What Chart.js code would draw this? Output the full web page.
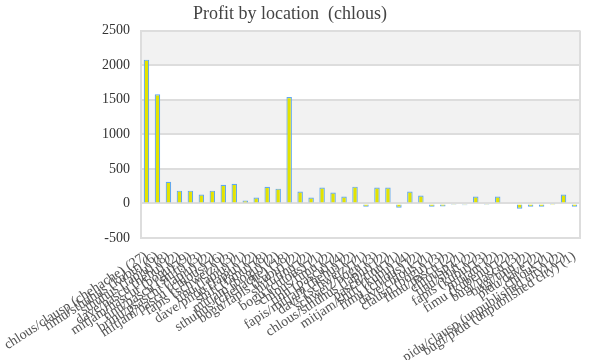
<!DOCTYPE html>
<html>
<head>
<meta charset="utf-8">
<script src="https://cdn.jsdelivr.net/npm/chart.js@4/dist/chart.umd.min.js"></script>
<style>
  html, body { margin: 0; padding: 0; background: #fff; }
  #wrap { width: 600px; height: 360px; }
</style>
</head>
<body>
<div id="wrap"><canvas id="chart-profit" width="600" height="360"></canvas></div>
<script>
// locations (labels are overlapping in the original, best guess)
var locations = [
  "chlous/clausp (chehache) (27)", "fimu/sthuhus (kubu) (6)", "sthuhus (lapiu) (8)",
  "dave/pascu (hehu) (2)", "mitjam/hascur (bogu) (9)", "tinu/pascu (shift) (3)",
  "brinu/psaschi (lapiu) (2)", "mitjam/pascu (chlous) (6)", "fapis (schweiz) (3)",
  "tinu (lapiu) (1)", "dave/piidu (lapiu) (2)", "shift (fimu) (8)",
  "mitjam (bogu) (2)", "sthuhus (chehache) (18)", "bogu/fapis (kubu) (2)",
  "shift/tinu (2)", "bogu (chlous) (1)", "chlous/fimu (2)",
  "tinu (pascu) (4)", "fapis/mitjam (hehu) (2)", "dave (schweiz) (1)",
  "schweiz/bogu (3)", "chlous/sthuhus (lapiu) (2)", "pascu/tinu (1)",
  "mitjam/shift (kubu) (4)", "fimu (chlous) (2)", "dave/chlous (1)",
  "clausp (bogu) (3)", "fimu/pascu (2)", "chlousp (1)",
  "tinu/shift (2)", "fapis (kubu) (3)", "mitjam (2)",
  "fimu (kubenu) (2)", "bugi/pascu (3)", "bugi/tinu (2)",
  "pidu/dave (2)", "chlous (1)", "pidu/clausp (unpublished city) (2)",
  "bugi/pidu (unpublished city) (1)"
];
var profit = [
  2080, 1580, 313, 185, 185, 128, 185, 270, 285, 43,
  85, 242, 214, 1538, 171, 86, 229, 157, 100, 243,
  -49, 229, 229, -63, 171, 114, -49, -43, -22, -25,
  100, -10, 100, 15, -77, -49, -49, -5, 129, -49
];
var tickValues = [-500, 0, 500, 1000, 1500, 2000, 2500];

var serif = "'Liberation Serif', 'DejaVu Serif', serif";

// grey bands between grid lines + right border
var bandPlugin = {
  id: 'bands',
  beforeDraw: function (chart) {
    var c = chart.ctx, a = chart.chartArea, y = chart.scales.y;
    c.save();
    for (var i = 0; i < tickValues.length - 1; i++) {
      if ((tickValues.length - 2 - i) % 2 == 0) {
        var y1 = y.getPixelForValue(tickValues[i + 1]);
        var y2 = y.getPixelForValue(tickValues[i]);
        c.fillStyle = '#f2f2f2';
        c.fillRect(a.left, y1, a.right - a.left, y2 - y1);
      }
    }
    c.restore();
  },
  afterDraw: function (chart) {
    var c = chart.ctx, a = chart.chartArea;
    c.save();
    c.strokeStyle = '#dddddd';
    c.lineWidth = 2;
    c.beginPath();
    c.moveTo(a.right, a.top);
    c.lineTo(a.right, a.bottom + 1);
    c.stroke();
    c.restore();
  }
};

var ctx = document.getElementById("chart-profit").getContext("2d");
var chartProfit = new Chart(ctx, {
  type: "bar",
  data: {
    labels: locations,
    datasets: [
      {
        label: "Profit",
        data: profit,
        backgroundColor: "#e3e300",
        borderColor: "#62a8ee",
        borderWidth: 1.2,
        categoryPercentage: 1,
        barPercentage: 0.5,
      },
    ],
  },
  options: {
    responsive: false,
    animation: false,
    layout: { padding: { left: 0, right: 20, top: 0, bottom: 0 } },
    scales: {
      x: {
        grid: { display: false },
        border: { display: false },
        ticks: {
          autoSkip: false,
          maxRotation: 33,
          minRotation: 33,
          color: '#555',
          padding: 2,
          font: { family: serif, size: 14 },
        },
        afterFit: function (s) {
          s.height = 122;
          s.paddingLeft = 0;
          s.paddingRight = 0;
        },
      },
      y: {
        min: -500,
        max: 2500,
        afterBuildTicks: function (s) {
          s.ticks = tickValues.map(function (v) { return { value: v }; });
        },
        grid: { color: '#dddddd', lineWidth: 2, drawTicks: false },
        border: { color: '#dddddd', width: 2 },
        ticks: {
          color: '#333',
          padding: 11,
          font: { family: serif, size: 14 },
          callback: function (v) { return String(v); },
        },
        afterFit: function (s) { s.width = 141; },
      },
    },
    plugins: {
      legend: { display: false },
      tooltip: { enabled: false },
      title: {
        display: true,
        text: "Profit by location  (chlous)",
        color: '#444',
        font: { family: serif, size: 18, weight: 'normal' },
        padding: { top: 3, bottom: 6 },
      },
    },
  },
  plugins: [bandPlugin],
});
</script>
</body>
</html>
